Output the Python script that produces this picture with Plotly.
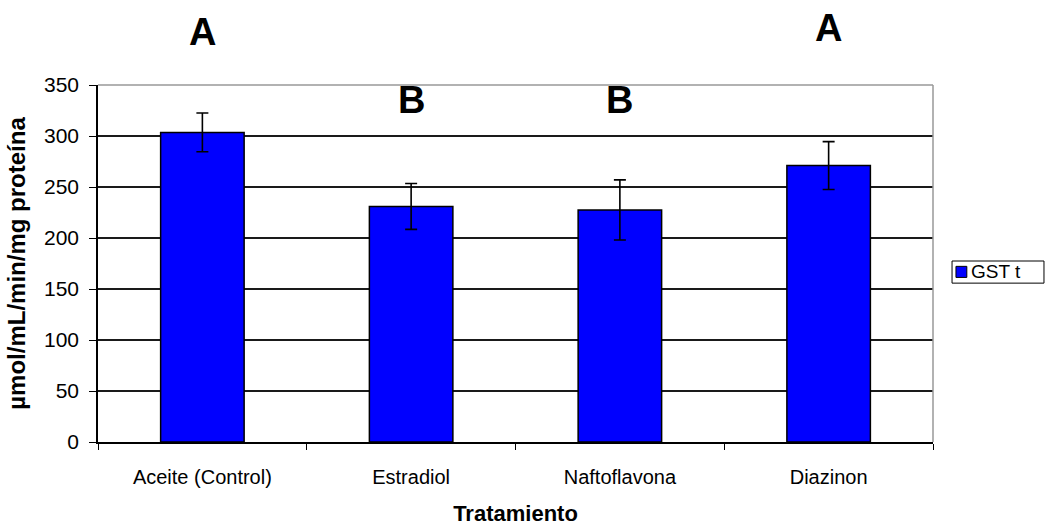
import plotly.graph_objects as go

categories = ["Aceite (Control)", "Estradiol", "Naftoflavona", "Diazinon"]
values = [303.5, 231.0, 227.5, 271.0]
errors = [19.0, 22.5, 29.5, 23.5]
letters = ["A", "B", "B", "A"]
series_name = "GST t"

# vertical placement of the significance letters (paper coordinates)
letter_pos = [1.148, 0.958, 0.958, 1.160]

FONT = "Liberation Sans, Arial, sans-serif"

fig = go.Figure()
fig.add_trace(go.Bar(
    x=categories, y=values, name=series_name,
    marker=dict(color="#0000FF", line=dict(color="black", width=1.5)),
    error_y=dict(type="data", array=errors, color="black", thickness=1.6, width=6),
    showlegend=False,
))

for c, t, ly in zip(categories, letters, letter_pos):
    fig.add_annotation(x=c, y=ly, xref="x", yref="paper", text="<b>%s</b>" % t,
                       showarrow=False, yanchor="middle",
                       font=dict(size=38, color="black", family=FONT))

# gray plot-area border (top / right)
fig.add_shape(type="line", xref="paper", yref="paper", x0=0, x1=1, y0=1, y1=1,
              line=dict(color="#999999", width=1.5))
fig.add_shape(type="line", xref="paper", yref="paper", x0=1, x1=1, y0=0, y1=1,
              line=dict(color="#999999", width=1.5))

# legend box (manual, Excel style)
fig.add_shape(type="rect", xref="paper", yref="paper", x0=1.0228, x1=1.1329,
              y0=0.445, y1=0.507, line=dict(color="black", width=1), fillcolor="white")
fig.add_shape(type="rect", xref="paper", yref="paper", x0=1.0275, x1=1.0405,
              y0=0.461, y1=0.492, line=dict(color="black", width=1), fillcolor="#0000FF")
fig.add_annotation(x=1.0435, y=0.477, xref="paper", yref="paper", text=series_name,
                   showarrow=False, xanchor="left", yanchor="middle",
                   font=dict(size=19, color="black", family=FONT))

fig.update_layout(
    width=1046, height=527,
    margin=dict(l=98, r=113, t=85, b=85, autoexpand=False),
    paper_bgcolor="white", plot_bgcolor="white",
    bargap=0.6,
    showlegend=False,
    font=dict(family=FONT, size=20, color="black"),
    xaxis=dict(
        title=dict(text="<b>Tratamiento</b>", font=dict(size=22), standoff=19),
        showline=True, linecolor="black", linewidth=1.5,
        ticks="outside", tickson="boundaries", ticklen=6, tickcolor="black",
        ticklabelstandoff=16, automargin=False,
        showgrid=False, tickfont=dict(size=20),
    ),
    yaxis=dict(
        title=dict(text="<b>µmol/mL/min/mg proteína</b>", font=dict(size=24), standoff=12),
        range=[0, 350], dtick=50, showline=True, linecolor="black", linewidth=1.5,
        ticks="outside", ticklen=7, tickcolor="black", ticklabelstandoff=6,
        showgrid=True, gridcolor="#1a1a1a", gridwidth=1.5, automargin=False,
        tickfont=dict(size=21), zeroline=False,
    ),
)

fig.write_html("out.html", config={"displayModeBar": False},
               post_script="document.body.style.margin='0';")
